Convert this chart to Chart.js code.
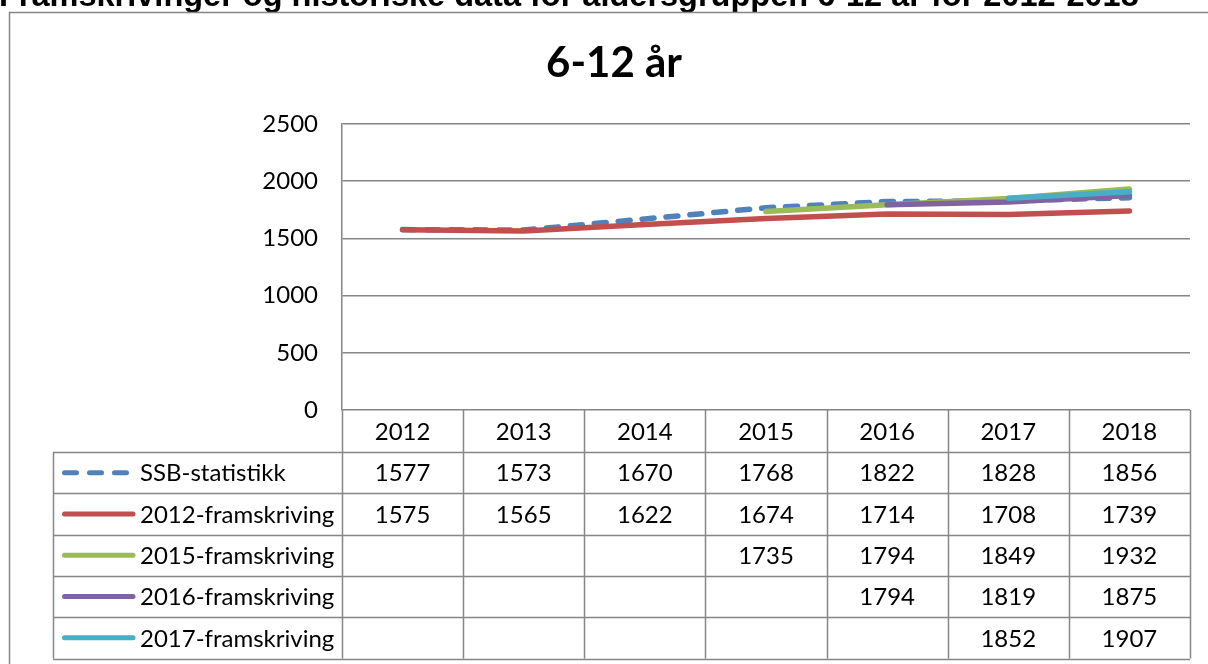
<!DOCTYPE html>
<html>
<head>
<meta charset="utf-8">
<script src="https://cdn.jsdelivr.net/npm/chart.js@4.4.1/dist/chart.umd.min.js"></script>
<style>
    html, body { margin: 0; padding: 0; background: #fff; overflow: hidden; }
    #wrap { position: relative; width: 1208px; height: 664px; }
</style>
</head>
<body>
<div id="wrap"><canvas id="chart" width="1208" height="664"></canvas></div>
<script>
// Data
const years = ['2012', '2013', '2014', '2015', '2016', '2017', '2018'];
const ssbStatistikk = [1577, 1573, 1670, 1768, 1822, 1828, 1856];
const fram2012 = [1575, 1565, 1622, 1674, 1714, 1708, 1739];
const fram2015 = [null, null, null, 1735, 1794, 1849, 1932];
const fram2016 = [null, null, null, null, 1794, 1819, 1875];
const fram2017 = [null, null, null, null, null, 1852, 1907];
const seriesNames = ['SSB-statistikk', '2012-framskriving', '2015-framskriving', '2016-framskriving', '2017-framskriving'];
const yTicks = [0, 500, 1000, 1500, 2000, 2500];

const pageTitle = 'Framskrivinger og historiske data for aldersgruppen 6-12 år for 2012-2018';
const chartTitle = '6-12 år';

const FONT = 'Lato, "Open Sans", sans-serif';
const GRID = '#868686';

const colors = ['#4F81BD', '#C0504D', '#9BBB59', '#8064A2', '#4BACC6'];
const allSeries = [ssbStatistikk, fram2012, fram2015, fram2016, fram2017];

// Frame, titles and data table drawn around the chart area
const decorPlugin = {
    id: 'decor',
    beforeDraw(chart) {
        const ctx = chart.ctx;
        ctx.save();
        ctx.fillStyle = '#fff';
        ctx.fillRect(0, 0, chart.width, chart.height);
        // page heading, cut off by the top of the picture
        ctx.fillStyle = '#000';
        ctx.font = 'bold 32.5px "Liberation Sans", Arial, sans-serif';
        ctx.textBaseline = 'alphabetic';
        ctx.textAlign = 'left';
        ctx.fillText(pageTitle, -1, 6);
        // outer frame
        ctx.strokeStyle = GRID;
        ctx.lineWidth = 1.5;
        ctx.beginPath();
        ctx.moveTo(9.5, 700);
        ctx.lineTo(9.5, 12.5);
        ctx.lineTo(1300, 12.5);
        ctx.stroke();
        ctx.restore();
    },
    afterDraw(chart) {
        const ctx = chart.ctx;
        const x = chart.scales.x;
        const area = chart.chartArea;
        const colW = (area.right - area.left) / years.length;
        const headTop = area.bottom;
        const rowH = 41.3;
        const headBottom = headTop + 42;
        const legendLeft = 53;
        const tableBottom = headBottom + rowH * seriesNames.length;

        ctx.save();
        // chart title
        ctx.fillStyle = '#000';
        ctx.font = 'bold 42px ' + FONT;
        ctx.textAlign = 'center';
        ctx.textBaseline = 'middle';
        ctx.fillText(chartTitle, 614, 63);

        // table grid
        ctx.strokeStyle = GRID;
        ctx.lineWidth = 1.5;
        ctx.beginPath();
        for (let i = 0; i <= years.length; i++) {
            const cx = Math.round(area.left + i * colW) + 0.5;
            ctx.moveTo(cx, headTop);
            ctx.lineTo(cx, tableBottom);
        }
        ctx.moveTo(legendLeft + 0.5, headBottom);
        ctx.lineTo(legendLeft + 0.5, tableBottom);
        for (let r = 0; r <= seriesNames.length; r++) {
            const ry = Math.round(headBottom + r * rowH) + 0.5;
            ctx.moveTo(legendLeft, ry);
            ctx.lineTo(area.right, ry);
        }
        ctx.stroke();

        // header years
        ctx.font = '24px ' + FONT;
        ctx.fillStyle = '#000';
        years.forEach((yr, i) => {
            ctx.fillText(yr, x.getPixelForValue(i), (headTop + headBottom) / 2 + 1);
        });

        // rows: legend key + values
        allSeries.forEach((vals, r) => {
            const cy = headBottom + r * rowH + rowH / 2;
            ctx.save();
            ctx.strokeStyle = colors[r];
            ctx.lineWidth = 5;
            ctx.lineCap = 'round';
            ctx.beginPath();
            if (r === 0) {
                ctx.setLineDash([12, 13]);
                ctx.moveTo(64.5, cy);
                ctx.lineTo(127, cy);
            } else {
                ctx.moveTo(64.5, cy);
                ctx.lineTo(133, cy);
            }
            ctx.stroke();
            ctx.restore();
            ctx.textAlign = 'left';
            ctx.fillText(seriesNames[r], 140, cy + 1);
            ctx.textAlign = 'center';
            vals.forEach((v, i) => {
                if (v !== null) ctx.fillText(String(v), x.getPixelForValue(i), cy + 1);
            });
        });
        ctx.restore();
    }
};

function lineSet(idx, order) {
    return {
        label: seriesNames[idx],
        data: allSeries[idx],
        borderColor: colors[idx],
        backgroundColor: colors[idx],
        borderWidth: 5.5,
        borderCapStyle: 'round',
        borderJoinStyle: 'round',
        borderDash: idx === 0 ? [12, 12] : [],
        pointRadius: 0,
        tension: 0,
        spanGaps: false,
        order: order
    };
}

new Chart(document.getElementById('chart'), {
    type: 'line',
    data: {
        labels: years,
        datasets: [lineSet(0, 5), lineSet(1, 4), lineSet(2, 3), lineSet(3, 2), lineSet(4, 1)]
    },
    options: {
        responsive: false,
        animation: false,
        events: [],
        layout: { padding: { left: 0, top: 124, right: 18, bottom: 254 } },
        plugins: {
            legend: { display: false },
            title: { display: false },
            tooltip: { enabled: false }
        },
        scales: {
            x: {
                type: 'category',
                offset: true,
                display: false
            },
            y: {
                min: 0,
                max: 2500,
                afterFit(scale) { scale.width = 342; },
                afterBuildTicks(scale) { scale.ticks = yTicks.map(v => ({ value: v })); },
                border: { display: true, color: GRID, width: 1.5 },
                grid: { color: GRID, lineWidth: 1.5, drawTicks: false },
                ticks: {
                    color: '#000',
                    padding: 24,
                    font: { family: FONT, size: 24 },
                    callback: (v) => String(v)
                }
            }
        }
    },
    plugins: [decorPlugin]
});
</script>
</body>
</html>
